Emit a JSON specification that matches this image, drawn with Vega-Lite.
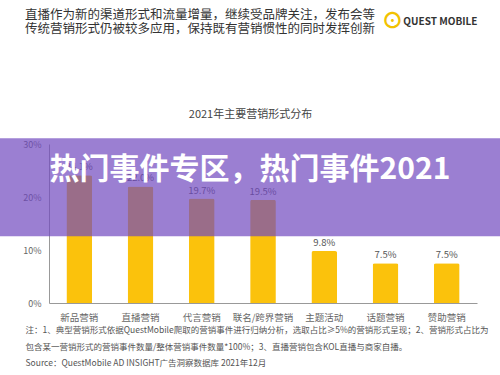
{
  "$schema": "https://vega.github.io/schema/vega-lite/v6.json",
  "width": 500,
  "height": 159,
  "autosize": {"type": "none"},
  "padding": {"top": 144, "bottom": 72, "left": 0, "right": 0},
  "background": "white",
  "config": {"font": "Noto Sans CJK SC", "view": {"stroke": null}},
  "title": {
    "text": ["直播作为新的渠道形式和流量增量，继续受品牌关注，发布会等", "传统营销形式仍被较多应用，保持既有营销惯性的同时发挥创新"],
    "anchor": "start",
    "frame": "group",
    "dx": 25,
    "fontSize": 12.5,
    "fontWeight": "normal",
    "color": "#333333",
    "lineHeight": 13.5,
    "offset": -26
  },
  "data": {
    "values": [
      {"形式": "新品营销", "占比": 0.241},
      {"形式": "直播营销", "占比": 0.22},
      {"形式": "代言营销", "占比": 0.197},
      {"形式": "联名/跨界营销", "占比": 0.195},
      {"形式": "主题活动", "占比": 0.098},
      {"形式": "话题营销", "占比": 0.075},
      {"形式": "赞助营销", "占比": 0.075}
    ]
  },
  "resolve": {"axis": {"x": "independent", "y": "independent"}},
  "layer": [
    {
      "mark": {"type": "bar", "color": "#fbc20c", "cornerRadiusTopLeft": 2, "cornerRadiusTopRight": 2},
      "encoding": {
        "x": {
          "field": "形式", "type": "nominal", "sort": null,
          "scale": {"range": [49, 477], "paddingInner": 0.58, "paddingOuter": 0.284},
          "axis": {
            "orient": "bottom", "labelAngle": 0, "labelFontSize": 9.5, "labelColor": "#666666",
            "labelPadding": 9, "ticks": false, "domainColor": "#999999",
            "title": [
              "注：1、典型营销形式依据QuestMobile爬取的营销事件进行归纳分析，选取占比≥5%的营销形式呈现；2、营销形式占比为",
              "包含某一营销形式的营销事件数量/整体营销事件数量*100%；3、直播营销包含KOL直播与商家自播。",
              "Source：QuestMobile AD INSIGHT广告洞察数据库 2021年12月"
            ],
            "titleFontSize": 8.5, "titleFontWeight": "normal", "titleColor": "#555555",
            "titleLineHeight": 16.5, "titleX": 25, "titleAlign": "left", "titleAnchor": "start",
            "titlePadding": 4, "titleBaseline": "top"
          }
        },
        "y": {
          "field": "占比", "type": "quantitative",
          "scale": {"domain": [0, 0.3], "nice": false},
          "axis": {
            "orient": "left", "format": ".0%", "values": [0, 0.1, 0.2, 0.3], "offset": -49,
            "ticks": false, "grid": false, "labelFontSize": 9, "labelColor": "#666666",
            "labelPadding": 8, "domainColor": "#999999",
            "title": "⊙", "titleAngle": 0, "titleX": 343, "titleY": -124, "titleAlign": "center",
            "titleBaseline": "middle", "titleFontSize": 22, "titleFontWeight": "bold", "titleColor": "#f2c200"
          }
        }
      }
    },
    {
      "mark": {"type": "text", "baseline": "bottom", "dy": -3, "fontSize": 9.5, "color": "#555555"},
      "encoding": {
        "x": {
          "field": "形式", "type": "nominal", "sort": null,
          "axis": {
            "orient": "top", "labels": false, "ticks": false, "domain": false,
            "title": "2021年主要营销形式分布", "titleFontSize": 11, "titleFontWeight": "normal",
            "titleColor": "#444444", "titleX": 250, "titlePadding": 25
          }
        },
        "y": {"field": "占比", "type": "quantitative", "axis": null},
        "text": {"field": "占比", "type": "quantitative", "format": ".1%"}
      }
    },
    {
      "data": {"values": [{"横幅": "热门事件专区，热门事件2021"}]},
      "mark": {"type": "rect", "color": "#7048bf", "opacity": 0.7},
      "encoding": {
        "y": {
          "datum": 0.311, "type": "quantitative",
          "axis": {
            "orient": "right", "labels": false, "ticks": false, "domain": false, "grid": false,
            "title": "QUEST MOBILE", "titleAngle": 0, "titleX": -23, "titleY": -123,
            "titleAlign": "right", "titleBaseline": "middle", "titleFontSize": 10,
            "titleFontWeight": "bold", "titleColor": "#333333"
          }
        },
        "y2": {"datum": 0.126}
      }
    },
    {
      "data": {"values": [{"横幅": "热门事件专区，热门事件2021"}]},
      "mark": {"type": "text", "fontSize": 30, "fontWeight": "bold", "color": "white", "baseline": "middle", "align": "center"},
      "encoding": {
        "y": {"datum": 0.251, "type": "quantitative", "axis": null},
        "text": {"field": "横幅", "type": "nominal"}
      }
    }
  ]
}
